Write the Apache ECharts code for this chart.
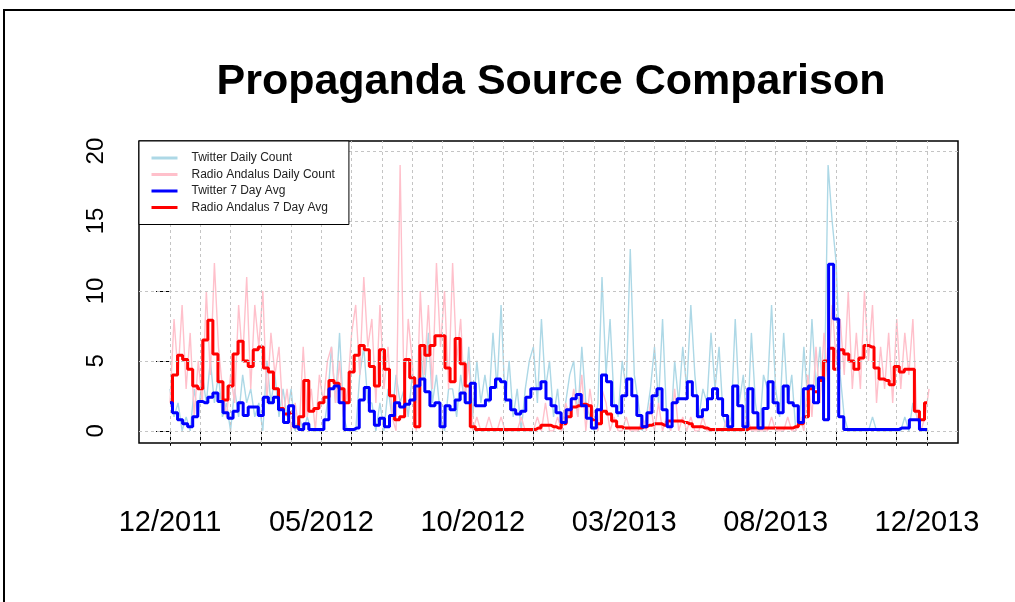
<!DOCTYPE html>
<html><head><meta charset="utf-8">
<script src="https://cdn.jsdelivr.net/npm/echarts@6/dist/echarts.min.js"></script>
<style>html,body{margin:0;padding:0;background:#fff}#c{width:1015px;height:602px}</style>
</head><body><div id="c"></div>
<script>
// days between samples
const AVG_STEP = 5;
const DAILY_STEP = 4;

const seriesNames = ['Twitter Daily Count', 'Radio Andalus Daily Count', 'Twitter 7 Day Avg', 'Radio Andalus 7 Day Avg'];

const twitterAvg = [
  2.0,1.3,0.8,0.5,0.3,1.0,2.1,2.0,2.4,2.7,
  2.1,1.3,0.9,1.4,2.0,1.1,1.7,1.7,1.1,2.4,
  2.0,2.4,1.5,0.6,1.8,0.3,0.1,0.5,0.1,0.1,
  0.1,0.8,3.0,3.2,2.0,0.1,0.1,0.2,2.2,3.1,
  1.4,0.4,0.9,0.3,1.1,2.0,1.7,1.9,2.2,3.2,
  3.7,2.8,1.8,2.0,0.3,1.8,1.5,2.2,2.7,2.0,
  3.4,1.8,1.8,2.2,3.1,3.7,3.5,2.2,1.5,1.2,
  1.4,2.4,3.0,3.0,3.5,2.3,1.8,1.3,0.6,1.5,
  2.3,2.6,1.8,0.9,0.2,1.5,4.0,3.5,1.8,1.3,
  2.5,3.7,2.5,1.1,0.3,1.3,2.5,3.0,1.5,0.3,
  2.0,2.3,2.3,3.5,2.5,1.0,1.5,2.3,3.0,2.3,
  1.1,0.3,3.2,1.8,0.3,3.0,1.3,0.2,1.6,3.5,
  2.0,1.3,3.2,2.0,1.8,0.6,3.0,3.2,2.0,3.8,
  0.8,11.9,8.0,1.0,0.1,0.1,0.1,0.1,0.1,0.1,
  0.1,0.1,0.1,0.1,0.1,0.2,0.2,0.8,0.8,0.1,0.1
];

const radioAvg = [
  2.0,4.0,5.4,5.1,4.4,3.2,3.0,6.5,7.9,5.5,
  3.5,2.2,3.2,5.5,6.4,5.0,4.6,5.8,6.0,4.5,
  4.2,3.0,1.6,1.2,1.3,0.3,1.0,3.6,1.4,1.6,
  2.0,2.4,3.6,3.4,3.0,2.0,4.2,5.4,6.1,5.8,
  4.6,3.2,5.8,4.4,2.5,0.8,1.0,5.1,3.8,0.3,
  6.1,5.4,6.1,6.8,6.8,4.5,3.5,6.6,4.8,3.2,
  0.3,0.1,0.1,0.1,0.1,0.1,0.1,0.1,0.1,0.1,
  0.1,0.1,0.1,0.2,0.4,0.4,0.3,0.2,0.5,1.0,
  1.7,1.8,1.9,1.8,0.8,0.5,1.4,1.2,0.7,0.3,
  0.2,0.2,0.2,0.2,0.3,0.4,0.5,0.5,0.4,0.7,
  0.7,0.7,0.6,0.5,0.3,0.3,0.2,0.1,0.1,0.1,
  0.1,0.1,0.1,0.1,0.1,0.2,0.2,0.2,0.2,0.2,
  0.2,0.2,0.2,0.2,0.3,0.5,1.0,3.0,2.8,3.6,
  5.0,5.9,4.4,5.8,5.5,5.0,4.4,5.2,6.1,6.0,
  4.5,3.7,3.6,3.3,4.6,4.2,4.4,4.4,1.4,0.8,2.0
];

const twitterDaily = [
  3,1,2,0,1,0,3,1,4,2,
  5,2,4,1,2,0,3,1,4,2,
  3,1,2,0,5,2,4,1,3,1,
  3,0,1,0,1,0,0,0,0,2,
  6,2,7,1,0,0,0,4,6,2,
  2,0,2,0,3,1,4,2,3,1,
  4,2,6,3,7,2,4,1,0,3,
  3,1,4,2,6,1,5,2,4,2,
  7,3,9,2,5,1,3,0,3,5,
  6,2,8,3,5,1,3,0,2,4,
  5,1,6,2,1,0,2,11,4,8,
  2,1,5,3,13,4,2,0,1,3,
  6,2,8,1,0,5,2,6,3,9,
  4,1,3,2,7,3,6,1,0,1,
  8,2,4,0,7,2,0,4,3,9,
  3,1,7,2,4,0,1,6,2,8,
  3,6,1,19,15,12,4,1,0,0,
  0,0,0,0,1,0,0,0,0,0,
  0,0,1,0,2,1,0,0,0
];

const radioDaily = [
  2,8,4,9,3,7,1,5,2,10,
  4,12,6,3,1,4,2,9,5,11,
  3,9,6,10,2,7,4,6,1,3,
  0,2,0,6,1,3,0,4,2,5,
  6,2,5,1,3,7,9,4,11,6,
  8,2,9,3,6,1,0,19,2,8,
  5,0,10,4,9,3,12,6,10,3,
  12,5,8,2,5,0,1,0,0,1,
  0,0,1,0,0,0,0,1,0,0,
  0,1,0,2,0,0,1,0,2,1,
  3,1,4,0,3,1,0,3,2,0,
  1,0,0,1,0,0,0,1,0,2,
  0,2,0,1,0,3,0,1,0,1,
  0,0,1,0,0,0,0,0,1,0,
  0,0,0,1,0,0,0,0,0,1,
  0,0,0,1,0,0,1,0,4,1,
  6,2,7,3,9,5,8,4,10,3,
  7,3,10,5,9,2,6,3,7,2,
  8,3,7,4,8,1,0,1,3
];

const xTickDays = [0,30,60,90,120,150,180,210,240,270,300,330,360,390,420,450,480,510,540,570,600,630,660,690,720,750];
const xLabelDays = [0,150,300,450,600,750];
const xLabels = ['12/2011','05/2012','10/2012','03/2013','08/2013','12/2013'];
const yTicks = [0,5,10,15,20];

function pairs(arr, step) { return arr.map((v, i) => [i * step, v]); }

const chart = echarts.init(document.getElementById('c'), null, {renderer: 'canvas'});
const FONT = 'Liberation Sans, Arial, sans-serif';

chart.setOption({
  animation: false,
  backgroundColor: '#fff',
  title: {
    text: 'Propaganda Source Comparison',
    left: 546, top: 56, textAlign: 'center',
    textStyle: {fontSize: 43, fontWeight: 'bold', fontFamily: FONT, color: '#000'}
  },
  graphic: [{
    type: 'rect', z: 100, silent: true,
    shape: {x: 4, y: 10, width: 1100, height: 700},
    style: {fill: 'none', stroke: '#000', lineWidth: 2}
  }],
  legend: {
    data: seriesNames,
    orient: 'vertical', left: 139, top: 141,
    itemWidth: 26, itemHeight: 12, itemGap: 4.5,
    padding: [11, 14, 11, 11],
    borderColor: '#000', borderWidth: 1, backgroundColor: '#fff',
    itemStyle: {opacity: 0},
    lineStyle: {width: 3},
    textStyle: {fontSize: 12, fontFamily: FONT, color: '#222', padding: [0, 0, 0, 9]},
    z: 20
  },
  grid: {left: 139, right: 57, top: 141, bottom: 159, show: true, borderColor: '#000', borderWidth: 1.5, backgroundColor: 'transparent'},
  xAxis: {
    type: 'value', min: -30.7, max: 780.7,
    axisLine: {show: false},
    splitLine: {show: false},
    axisTick: {show: true, customValues: xTickDays, length: 15, lineStyle: {color: '#000', width: 1}},
    axisLabel: {
      customValues: xLabelDays, margin: 65, fontSize: 29, fontFamily: FONT, color: '#000',
      formatter: v => xLabels[xLabelDays.indexOf(v)] || ''
    }
  },
  yAxis: {
    type: 'value', min: -0.87, max: 20.72,
    axisLine: {show: false},
    splitLine: {show: false},
    axisTick: {show: true, customValues: yTicks, length: 14, lineStyle: {color: '#000', width: 1}},
    axisLabel: {customValues: yTicks, rotate: 90, margin: 31, fontSize: 24, fontFamily: FONT, color: '#000'}
  },
  series: [
    {
      name: seriesNames[0], type: 'line', symbol: 'none', z: 2,
      data: pairs(twitterDaily, DAILY_STEP),
      lineStyle: {color: '#ADD8E6', width: 1.4}, itemStyle: {color: '#ADD8E6'},
      markLine: {
        silent: true, symbol: 'none', animation: false, label: {show: false},
        lineStyle: {color: '#c4c4c4', type: [3, 3], width: 1},
        data: xTickDays.map(d => ({xAxis: d})).concat(yTicks.map(v => ({yAxis: v})))
      }
    },
    {
      name: seriesNames[1], type: 'line', symbol: 'none', z: 3,
      data: pairs(radioDaily, DAILY_STEP),
      lineStyle: {color: '#FFC0CB', width: 1.4}, itemStyle: {color: '#FFC0CB'}
    },
    {
      name: seriesNames[3], type: 'line', symbol: 'none', z: 4, step: 'middle',
      data: pairs(radioAvg, AVG_STEP),
      lineStyle: {color: '#FF0000', width: 3}, itemStyle: {color: '#FF0000'}
    },
    {
      name: seriesNames[2], type: 'line', symbol: 'none', z: 5, step: 'middle',
      data: pairs(twitterAvg, AVG_STEP),
      lineStyle: {color: '#0000FF', width: 3}, itemStyle: {color: '#0000FF'}
    }
  ]
});
</script>
</body></html>
